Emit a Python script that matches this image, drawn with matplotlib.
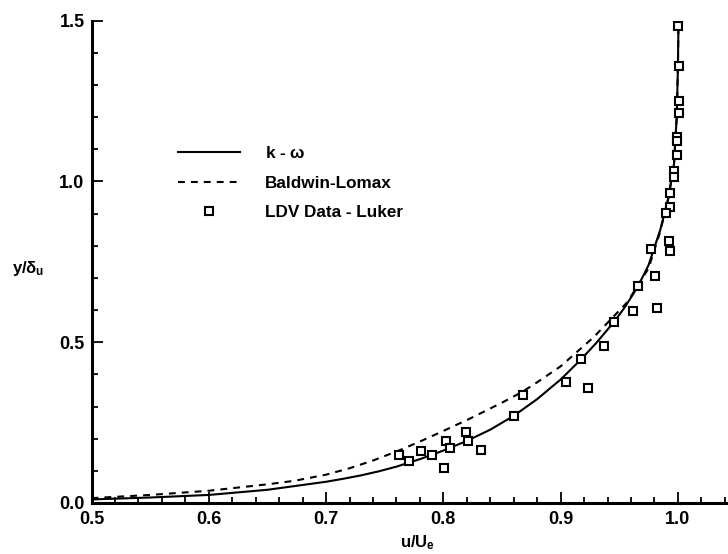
import matplotlib
matplotlib.use("Agg")
import matplotlib.pyplot as plt
from matplotlib.ticker import MultipleLocator

plt.rcParams["font.family"] = ["Liberation Sans", "DejaVu Sans"]
plt.rcParams["font.weight"] = "bold"
plt.rcParams["mathtext.fontset"] = "custom"
plt.rcParams["mathtext.rm"] = "Liberation Sans:bold"
plt.rcParams["mathtext.it"] = "Liberation Sans:bold"
plt.rcParams["mathtext.bf"] = "Liberation Sans:bold"

# k-omega solution
kw_u = [0.5, 0.55, 0.6, 0.65, 0.70, 0.715, 0.73, 0.745, 0.76, 0.781, 0.80,
        0.82, 0.84, 0.86, 0.88, 0.9, 0.917, 0.93, 0.9455, 0.955, 0.966,
        0.975, 0.985, 0.992, 0.9967, 0.999, 1.0, 1.0005]
kw_y = [0.011, 0.017, 0.025, 0.041, 0.066, 0.0755, 0.086, 0.0985, 0.113,
        0.1375, 0.163, 0.193, 0.228, 0.271, 0.323, 0.384, 0.445, 0.496,
        0.563, 0.610, 0.674, 0.740, 0.850, 0.950, 1.055, 1.200, 1.350, 1.490]

# Baldwin-Lomax solution
bl_u = [0.5, 0.55, 0.6, 0.65, 0.673, 0.70, 0.72, 0.74, 0.76, 0.78, 0.80,
        0.823, 0.85, 0.866, 0.877, 0.9, 0.928, 0.957, 0.975, 0.985, 0.992,
        0.9967, 0.999, 1.0, 1.0005]
bl_y = [0.015, 0.025, 0.038, 0.058, 0.069, 0.088, 0.108, 0.132, 0.160, 0.191,
        0.224, 0.263, 0.312, 0.343, 0.368, 0.425, 0.515, 0.625, 0.730, 0.845,
        0.950, 1.055, 1.200, 1.350, 1.490]

# LDV data - Luker
ldv_u = [0.9998, 1.0008, 1.0008, 1.0010, 0.9996, 0.9996, 0.9996, 0.9967,
         0.9967, 0.9930, 0.9930, 0.9899, 0.9924, 0.9930, 0.9774, 0.9805,
         0.9663, 0.9820, 0.9615, 0.9455, 0.9370, 0.9170, 0.9050, 0.9234,
         0.8680, 0.8600, 0.8197, 0.8210, 0.8320, 0.8020, 0.8057, 0.7900,
         0.8006, 0.7806, 0.7710, 0.7620]
ldv_y = [1.483, 1.358, 1.250, 1.214, 1.139, 1.125, 1.083, 1.033, 1.014,
         0.963, 0.922, 0.901, 0.814, 0.784, 0.789, 0.705, 0.674, 0.605,
         0.597, 0.563, 0.488, 0.449, 0.376, 0.358, 0.335, 0.269, 0.2215,
         0.192, 0.165, 0.194, 0.170, 0.150, 0.110, 0.163, 0.130, 0.148]

fig = plt.figure(figsize=(7.28, 5.54), dpi=100)
ax = fig.add_axes([0.1257, 0.0921, 0.886, 0.8705])

ax.plot(kw_u, kw_y, color="black", lw=1.5, label=r"k - $\omega$")
ax.plot(bl_u, bl_y, color="black", lw=1.5, dashes=(3.3, 2.9), label="Baldwin-Lomax")
ax.plot(ldv_u, ldv_y, ls="none", marker="s", ms=5.5, mew=1.5, mfc="white",
        mec="black", label="LDV Data - Luker")

ax.set_xlim(0.5, 1.05)
ax.set_ylim(0.0, 1.5)
ax.xaxis.set_major_locator(MultipleLocator(0.1))
ax.xaxis.set_minor_locator(MultipleLocator(0.02))
ax.yaxis.set_major_locator(MultipleLocator(0.5))
ax.yaxis.set_minor_locator(MultipleLocator(0.1))
ax.tick_params(which="both", direction="in", width=1.3, labelsize=13)
ax.tick_params(which="major", length=8)
ax.tick_params(which="minor", length=4)
ax.tick_params(axis="x", pad=6)
ax.tick_params(axis="y", pad=5)
ax.spines["top"].set_visible(False)
ax.spines["right"].set_visible(False)
ax.spines["left"].set_linewidth(2.2)
ax.spines["bottom"].set_linewidth(2.2)

fig.text(28 / 728, 1 - 268 / 554, r"y/$\delta_{u}$", fontsize=12,
         fontweight="bold", ha="center", va="center")
fig.text(418 / 728, 1 - 543 / 554, r"u/U$_{e}$", fontsize=12,
         fontweight="bold", ha="center", va="center")

ax.legend(loc="upper left", bbox_to_anchor=(178 / 728, 1 - 145 / 554),
          bbox_transform=fig.transFigure, frameon=False, fontsize=12.3,
          handlelength=3.6, handletextpad=1.5, labelspacing=0.86,
          borderpad=0, borderaxespad=0)

fig.savefig("out.png", dpi=100)
